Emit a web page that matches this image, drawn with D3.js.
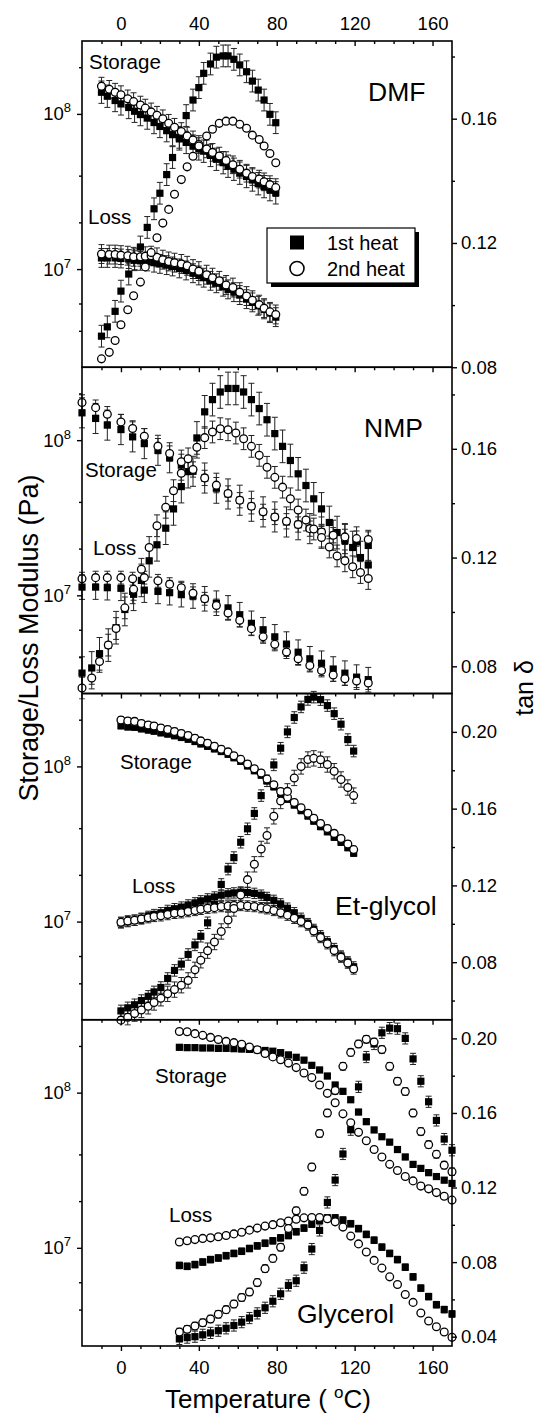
<!DOCTYPE html>
<html>
<head>
<meta charset="utf-8">
<script src="https://cdn.jsdelivr.net/npm/d3@7/dist/d3.min.js"></script>
<style>
body { margin: 0; background: #fff; }
svg { display: block; }
text { font-family: "Liberation Sans", Arial, sans-serif; fill: #000; }
</style>
</head>
<body>
<div id="chart"></div>
<script>
// moduli are in MPa (x 1e6 Pa), tan delta is dimensionless

// ---- DMF ----
const dmfTemp1 = [-10,-7,-3,0,4,7,10,13.5,17,20,23.5,26.5,30,33.5,37,40,42.5,46,49,52.5,55,58,61,64.5,67.5,70.5,73.5,76.5,79.5];
const dmfStorage1 = [138,130,122,116,110,104,99,94,88,83,78,73.5,69,65.5,62,59.5,57.5,54,51,48.5,46,44,41.5,39.5,37.5,35.5,34,32.5,31];
const dmfLoss1 = [11.8,11.8,11.8,11.7,11.6,11.4,11.3,11.2,11.0,10.8,10.6,10.4,10.1,9.8,9.4,9.1,8.8,8.4,8.1,7.7,7.4,7.1,6.8,6.4,6.1,5.8,5.5,5.2,4.9];
const dmfTan1 = [0.090,0.093,0.098,0.1045,0.110,0.1146,0.1187,0.125,0.131,0.136,0.142,0.1475,0.154,0.161,0.166,0.170,0.1746,0.1776,0.1798,0.1802,0.1802,0.1791,0.1773,0.1751,0.1721,0.1692,0.166,0.1614,0.1587];
const dmfTemp2 = [-10,-6,-3,0,3.5,6.5,10,12.5,15.5,18.5,21.5,24.5,27.5,31,34,37,40,44,47,50.5,54,57.5,61,64.5,67.5,71,73.5,76.5,79.5];
const dmfStorage2 = [151,144,138,133,125,120,114,109,103,98,93,87,82,77,72,68,63.5,59.5,56.5,53.5,50,47,44,41.5,39.5,38,36.5,35,33.5];
const dmfLoss2 = [12.5,12.4,12.4,12.3,12.2,12.0,12.0,12.1,12.2,11.9,11.5,11.2,11.0,10.8,10.5,10.0,9.7,9.2,8.8,8.4,7.9,7.6,7.1,6.7,6.3,5.9,5.6,5.3,5.1];
const dmfTan2 = [0.0827,0.0848,0.0886,0.0937,0.0985,0.1030,0.1074,0.1123,0.1169,0.1217,0.1264,0.1308,0.1357,0.1404,0.1445,0.1479,0.1512,0.1544,0.1566,0.1585,0.1592,0.1592,0.1582,0.1569,0.1547,0.1533,0.1512,0.1488,0.1458];
// error sizes: storage1, loss1 (relative), tan1 (abs), storage2, loss2, tan2
const dmfErr = [0.18, 0.15, 0.0035, 0.14, 0.15, 0.0];

// ---- NMP ----
const nmpTempMod = [-20,-13,-7,0,6,12,19,25,31,37,43,49,55,61,67,73,79,85,91,97,103,109,115,121,127];
const nmpStorage1 = [150,138,125,117,105,95,86,77,69,63,57,49,45,41,37.5,34.5,32,29.7,28.5,26.9,25.6,24.4,23.2,22.1,21];
const nmpLoss1 = [11.3,11.3,11.2,11.1,10.6,10.8,10.6,10.4,10.1,9.9,9.5,8.9,8.3,7.5,6.6,6.0,5.4,4.85,4.3,3.9,3.65,3.35,3.15,2.97,2.86];
const nmpStorage2 = [175,162,147,131,119,106,91.5,82,72.5,64.7,57.1,51.3,45.3,41,37.5,34.5,32,30,28.6,26.9,25.6,24.4,23.8,23.2,22.9];
const nmpLoss2 = [12.8,13.0,13.0,13.0,12.8,13.0,12.4,11.8,11.2,10.3,9.5,8.6,7.7,6.9,6.1,5.4,4.83,4.31,3.9,3.53,3.28,3.07,2.9,2.8,2.72];
const nmpTempTan = [-20,-15,-11,-6.5,-2.5,2,6.5,10.5,14.5,18.5,23,27,31,34.5,39,43,47,51,55,59,63,67,71,75,79,83,87,91,95,99,103,107,111,115,119,123,127];
const nmpTan1 = [0.0775,0.0794,0.0846,0.0878,0.0942,0.1009,0.1065,0.1116,0.1188,0.1247,0.1308,0.1379,0.1461,0.1516,0.1640,0.1736,0.1781,0.1809,0.1822,0.1822,0.1809,0.1781,0.1748,0.1707,0.1656,0.1609,0.1557,0.1508,0.1465,0.1416,0.1379,0.1329,0.1292,0.1262,0.1237,0.1200,0.1173];
const nmpTan2 = [0.072,0.0757,0.0818,0.0878,0.0939,0.1015,0.1083,0.1157,0.1237,0.1317,0.1385,0.1446,0.1510,0.1563,0.1606,0.1641,0.1662,0.1674,0.1670,0.1658,0.1637,0.1609,0.1576,0.1532,0.1495,0.1459,0.1416,0.1375,0.1338,0.1305,0.1274,0.1239,0.1206,0.1188,0.1166,0.1145,0.1123];
const nmpErr = [0.25, 0.2, 0.006, 0.12, 0.1, 0.004];

// ---- Et-glycol ----
const etTemp = [0,3.5,7,10.5,14,17,20.5,24,27.5,31,34.5,38,41,44.5,48,51.5,55,58,61.5,65,68.5,72,75,78.5,82,85.5,89,92.5,96,99,102.5,106,109.5,113,116.5,119.5];
const etStorage1 = [183,180,179,175,172,169,165,162,158,154,150,145,140,135,130,125,120,114,108,101,94,88,81,74,67,61.5,56.5,52,48,44.5,41,38,35,32.5,30,27.6];
const etStorage2 = [199,196,195,189,185,182,177,173,168,163,158,152,146,141,135,129,124,117,111,103.5,96.6,90.6,82.8,76.1,68.9,63.3,58.5,54.2,49.9,46.3,42.9,39.8,37,34.3,31.6,29.1];
const etLoss1 = [9.8,10.0,10.2,10.5,10.8,11.1,11.4,11.8,12.1,12.4,12.8,13.2,13.6,14.0,14.4,14.8,15.1,15.3,15.5,15.4,15.2,14.8,14.3,13.7,13.0,12.2,11.4,10.5,9.7,8.9,8.1,7.4,6.7,6.0,5.5,5.1];
const etLoss2 = [9.9,10.1,10.2,10.4,10.6,10.8,10.9,11.1,11.3,11.4,11.6,11.8,12.0,12.2,12.3,12.5,12.6,12.7,12.7,12.6,12.5,12.3,12.1,11.8,11.4,11.0,10.5,10.0,9.5,8.7,7.9,7.2,6.5,5.9,5.4,4.95];
const etTan1 = [0.0546,0.0562,0.0578,0.0600,0.0622,0.0645,0.0668,0.0715,0.0757,0.0790,0.0840,0.0890,0.0935,0.1005,0.1100,0.1205,0.1285,0.1345,0.1425,0.1495,0.1575,0.1668,0.1745,0.1828,0.1915,0.2000,0.2075,0.2130,0.2169,0.2181,0.2168,0.2137,0.2095,0.2040,0.1960,0.1900];
const etTan2 = [0.0498,0.0513,0.0532,0.0551,0.0570,0.0590,0.0612,0.0635,0.0657,0.0680,0.0705,0.0760,0.0810,0.0860,0.0905,0.0960,0.1020,0.1080,0.1150,0.1230,0.1310,0.1390,0.1460,0.1560,0.1640,0.1690,0.1760,0.1820,0.1856,0.1862,0.1855,0.1830,0.1795,0.1752,0.1710,0.1668];
const etErr = [0.05, 0.08, 0.003, 0.05, 0.08, 0.004];

// ---- Glycerol ----
const glyTemp = [30,34,38,42,46,50,54,58,62,66,70,74,78,82,86,90,94,98,102,106,110,114,118,122,126,130,134,138,142,146,150,154,158,162,166,170];
const glyStorage1 = [196,195,195,194,194,193,193,192,191,190,189,187,185,181,175,169,162,150,140,128,112,102,90,75,65,57.5,52,48,43,38.5,34.5,32.5,30.5,28.8,27.3,26];
const glyStorage2 = [248,247,240,234,227,220,214,210,205,197,189,179,170,163,155,145,134,125,112,99,86,73,64,55.5,49,43,38.5,34.5,31.5,28.8,27,25,24,22.7,21.5,20.3];
const glyLoss1 = [7.7,7.6,7.8,8.1,8.4,8.6,8.9,9.2,9.5,9.9,10.3,10.7,11.1,11.6,12.0,12.7,13.4,14.2,15.0,15.6,15.6,15.1,14.3,13.3,12.2,11.2,10.1,9.2,8.4,7.5,6.5,5.5,4.85,4.3,4.0,3.75];
const glyLoss2 = [10.9,11.1,11.3,11.5,11.6,11.8,12.0,12.3,12.6,13.0,13.4,13.8,14.1,14.5,14.9,15.3,15.6,15.7,15.7,15.4,14.7,13.6,11.9,10.6,9.4,8.3,7.4,6.5,5.8,5.0,4.45,3.8,3.38,3.1,2.87,2.65];
const glyTan1 = [0.0388,0.0395,0.040,0.041,0.042,0.0432,0.0445,0.046,0.0478,0.050,0.0525,0.0555,0.059,0.063,0.0675,0.070,0.077,0.087,0.097,0.112,0.124,0.138,0.151,0.174,0.190,0.197,0.203,0.2055,0.2052,0.200,0.189,0.177,0.166,0.156,0.146,0.140];
const glyTan2 = [0.0425,0.044,0.0457,0.0475,0.0495,0.052,0.0545,0.0575,0.061,0.064,0.069,0.0765,0.082,0.088,0.098,0.1075,0.118,0.131,0.149,0.160,0.172,0.185,0.1925,0.197,0.1995,0.198,0.194,0.185,0.177,0.1715,0.160,0.150,0.143,0.1378,0.132,0.1285];
const glyErr = [0.04, 0.05, 0.003, 0.02, 0.03, 0.002];

// axis ticks
const tempMajor = [0, 40, 80, 120, 160];
const tempMinor = [-10, 10, 20, 30, 50, 60, 70, 90, 100, 110, 130, 140, 150];
const modMajor = [1e7, 1e8];
const modMinor = [4e6, 6e6, 2e7, 4e7, 2e8];
const legendLabels = ["1st heat", "2nd heat"];

const panels = [
  {name: "DMF", t1: dmfTemp1, s1: dmfStorage1, l1: dmfLoss1, tt1: dmfTemp1, tan1: dmfTan1,
   t2: dmfTemp2, s2: dmfStorage2, l2: dmfLoss2, tt2: dmfTemp2, tan2: dmfTan2, err: dmfErr,
   tanDomain: [0.08, 0.185], tanMajor: [0.08, 0.12, 0.16], tanMinor: [0.10, 0.14, 0.18],
   nameXY: [368, 101], storXY: [89, 69], lossXY: [88, 224]},
  {name: "NMP", t1: nmpTempMod, s1: nmpStorage1, l1: nmpLoss1, tt1: nmpTempTan, tan1: nmpTan1,
   t2: nmpTempMod, s2: nmpStorage2, l2: nmpLoss2, tt2: nmpTempTan, tan2: nmpTan2, err: nmpErr,
   tanDomain: [0.07, 0.19], tanMajor: [0.08, 0.12, 0.16], tanMinor: [0.10, 0.14, 0.18],
   nameXY: [364, 437], storXY: [85, 477], lossXY: [93, 555]},
  {name: "Et-glycol", t1: etTemp, s1: etStorage1, l1: etLoss1, tt1: etTemp, tan1: etTan1,
   t2: etTemp, s2: etStorage2, l2: etLoss2, tt2: etTemp, tan2: etTan2, err: etErr,
   tanDomain: [0.05, 0.22], tanMajor: [0.08, 0.12, 0.16, 0.20], tanMinor: [0.06, 0.10, 0.14, 0.18],
   nameXY: [335, 915], storXY: [120, 769], lossXY: [132, 893]},
  {name: "Glycerol", t1: glyTemp, s1: glyStorage1, l1: glyLoss1, tt1: glyTemp, tan1: glyTan1,
   t2: glyTemp, s2: glyStorage2, l2: glyLoss2, tt2: glyTemp, tan2: glyTan2, err: glyErr,
   tanDomain: [0.035, 0.21], tanMajor: [0.04, 0.08, 0.12, 0.16, 0.20], tanMinor: [0.06, 0.10, 0.14, 0.18],
   nameXY: [297, 1323], storXY: [155, 1083], lossXY: [169, 1222]}
];

const W = 540, H = 1416;
const left = 82, right = 452, top0 = 41, panelH = 326.25;

const svg = d3.select("#chart").append("svg")
  .attr("width", W).attr("height", H);

const x = d3.scaleLinear().domain([-20, 170]).range([left, right]);

function sup(sel, base, exp) {
  sel.text(null);
  sel.append("tspan").text(base);
  sel.append("tspan").attr("dy", -8).attr("font-size", 13).text(exp);
}

panels.forEach((p, i) => {
  const top = top0 + i * panelH;
  const g = svg.append("g").attr("transform", "translate(0," + top + ")");
  const yMod = d3.scaleLog().domain([2.33e6, 2.95e8]).range([panelH, 0]);
  const yTan = d3.scaleLinear().domain(p.tanDomain).range([panelH, 0]);

  const clipId = "clip" + i;
  g.append("clipPath").attr("id", clipId).append("rect")
    .attr("x", left - 6).attr("y", -6).attr("width", right - left + 12).attr("height", panelH + 12);
  const plot = g.append("g").attr("clip-path", "url(#" + clipId + ")");

  // series: [temps, values, yScale, isMod, errSize, isFirst]
  const series = [
    [p.t1, p.s1, yMod, true, p.err[0], true],
    [p.t1, p.l1, yMod, true, p.err[1], true],
    [p.tt1, p.tan1, yTan, false, p.err[2], true],
    [p.t2, p.s2, yMod, true, p.err[3], false],
    [p.t2, p.l2, yMod, true, p.err[4], false],
    [p.tt2, p.tan2, yTan, false, p.err[5], false]
  ];

  // error bars
  series.forEach(([ts, vs, ys, isMod, e]) => {
    if (!e) return;
    const pts = ts.map((t, k) => {
      const v = isMod ? vs[k] * 1e6 : vs[k];
      const lo = isMod ? v / (1 + e) : v - e;
      const hi = isMod ? v * (1 + e) : v + e;
      return {t: t, lo: lo, hi: hi};
    });
    const eb = plot.append("g").attr("stroke", "#222").attr("stroke-width", 1);
    eb.selectAll("line.v").data(pts).join("line")
      .attr("x1", d => x(d.t)).attr("x2", d => x(d.t))
      .attr("y1", d => ys(d.lo)).attr("y2", d => ys(d.hi));
    eb.selectAll("line.hi").data(pts).join("line")
      .attr("x1", d => x(d.t) - 3).attr("x2", d => x(d.t) + 3)
      .attr("y1", d => ys(d.hi)).attr("y2", d => ys(d.hi));
    eb.selectAll("line.lo").data(pts).join("line")
      .attr("x1", d => x(d.t) - 3).attr("x2", d => x(d.t) + 3)
      .attr("y1", d => ys(d.lo)).attr("y2", d => ys(d.lo));
  });

  // markers: squares for 1st heat, then open circles for 2nd heat
  series.filter(s => s[5]).forEach(([ts, vs, ys, isMod]) => {
    plot.append("g").selectAll("rect").data(ts.map((t, k) => [t, isMod ? vs[k] * 1e6 : vs[k]]))
      .join("rect")
      .attr("x", d => x(d[0]) - 3.6).attr("y", d => ys(d[1]) - 3.6)
      .attr("width", 7.2).attr("height", 7.2).attr("fill", "#000");
  });
  series.filter(s => !s[5]).forEach(([ts, vs, ys, isMod]) => {
    plot.append("g").selectAll("circle").data(ts.map((t, k) => [t, isMod ? vs[k] * 1e6 : vs[k]]))
      .join("circle")
      .attr("cx", d => x(d[0])).attr("cy", d => ys(d[1])).attr("r", 3.9)
      .attr("fill", "#fff").attr("stroke", "#000").attr("stroke-width", 1.3);
  });

  // frame
  g.append("rect").attr("x", left).attr("y", 0).attr("width", right - left).attr("height", panelH)
    .attr("fill", "none").attr("stroke", "#000").attr("stroke-width", 1.6);

  // top ticks (inward)
  g.append("g").call(d3.axisBottom(x).tickValues(tempMajor).tickSize(5).tickFormat(""))
    .call(a => a.select(".domain").remove());
  g.append("g").call(d3.axisBottom(x).tickValues(tempMinor).tickSize(3).tickFormat(""))
    .call(a => a.select(".domain").remove());

  if (i === 0) {
    g.append("g").call(d3.axisTop(x).tickValues(tempMajor).tickSize(0).tickPadding(11))
      .call(a => a.select(".domain").remove())
      .call(a => a.selectAll("text").attr("font-size", 18.5).attr("font-family", "Liberation Sans, Arial, sans-serif"));
  }
  if (i === panels.length - 1) {
    const b = g.append("g").attr("transform", "translate(0," + panelH + ")");
    b.append("g").call(d3.axisBottom(x).tickValues(tempMajor).tickSize(5).tickPadding(10))
      .call(a => a.select(".domain").remove())
      .call(a => a.selectAll("text").attr("font-size", 18.5).attr("font-family", "Liberation Sans, Arial, sans-serif"));
    b.append("g").call(d3.axisBottom(x).tickValues(tempMinor).tickSize(3).tickFormat(""))
      .call(a => a.select(".domain").remove());
  }

  // left log axis
  const la = g.append("g").attr("transform", "translate(" + left + ",0)");
  la.append("g").call(d3.axisLeft(yMod).tickValues(modMajor).tickSize(5).tickPadding(6))
    .call(a => a.select(".domain").remove())
    .call(a => a.selectAll("text").attr("font-size", 18.5).attr("font-family", "Liberation Sans, Arial, sans-serif")
      .each(function(d) { sup(d3.select(this), "10", Math.round(Math.log10(d))); }));
  la.append("g").call(d3.axisLeft(yMod).tickValues(modMinor).tickSize(3).tickFormat(""))
    .call(a => a.select(".domain").remove());

  // right tan delta axis
  const ra = g.append("g").attr("transform", "translate(" + right + ",0)");
  ra.append("g").call(d3.axisRight(yTan).tickValues(p.tanMajor).tickSize(5).tickPadding(4).tickFormat(d3.format(".2f")))
    .call(a => a.select(".domain").remove())
    .call(a => a.selectAll("text").attr("font-size", 18.5).attr("font-family", "Liberation Sans, Arial, sans-serif"));
  ra.append("g").call(d3.axisRight(yTan).tickValues(p.tanMinor).tickSize(3).tickFormat(""))
    .call(a => a.select(".domain").remove());

  svg.selectAll(".tick line").attr("stroke-width", 1.4);

  // labels inside panel
  svg.append("text").attr("x", p.nameXY[0]).attr("y", p.nameXY[1]).attr("font-size", 26.5).text(p.name);
  svg.append("text").attr("x", p.storXY[0]).attr("y", p.storXY[1]).attr("font-size", 20.5).text("Storage");
  svg.append("text").attr("x", p.lossXY[0]).attr("y", p.lossXY[1]).attr("font-size", 20.5).text("Loss");
});

// legend in the DMF panel
const lg = svg.append("g");
lg.append("rect").attr("x", 271).attr("y", 232).attr("width", 148).attr("height", 55).attr("fill", "#000");
lg.append("rect").attr("x", 267).attr("y", 228).attr("width", 148).attr("height", 55)
  .attr("fill", "#fff").attr("stroke", "#000").attr("stroke-width", 1.2);
lg.append("rect").attr("x", 290).attr("y", 235.5).attr("width", 14).attr("height", 14).attr("fill", "#000");
lg.append("circle").attr("cx", 297).attr("cy", 268.5).attr("r", 7)
  .attr("fill", "#fff").attr("stroke", "#000").attr("stroke-width", 1.6);
lg.selectAll("text").data(legendLabels).join("text")
  .attr("x", 327).attr("y", (d, k) => 250 + k * 26).attr("font-size", 20).text(d => d);

// axis titles
svg.append("text").attr("transform", "translate(38,638) rotate(-90)")
  .attr("text-anchor", "middle").attr("font-size", 27).text("Storage/Loss Modulus (Pa)");
svg.append("text").attr("transform", "translate(533,688) rotate(-90)")
  .attr("text-anchor", "middle").attr("font-size", 25).text("tan \u03b4");
const xt = svg.append("text").attr("x", 268).attr("y", 1408).attr("text-anchor", "middle").attr("font-size", 26);
xt.append("tspan").text("Temperature ( ");
xt.append("tspan").attr("dy", -10).attr("font-size", 17).text("o");
xt.append("tspan").attr("dy", 10).text("C)");
</script>
</body>
</html>
